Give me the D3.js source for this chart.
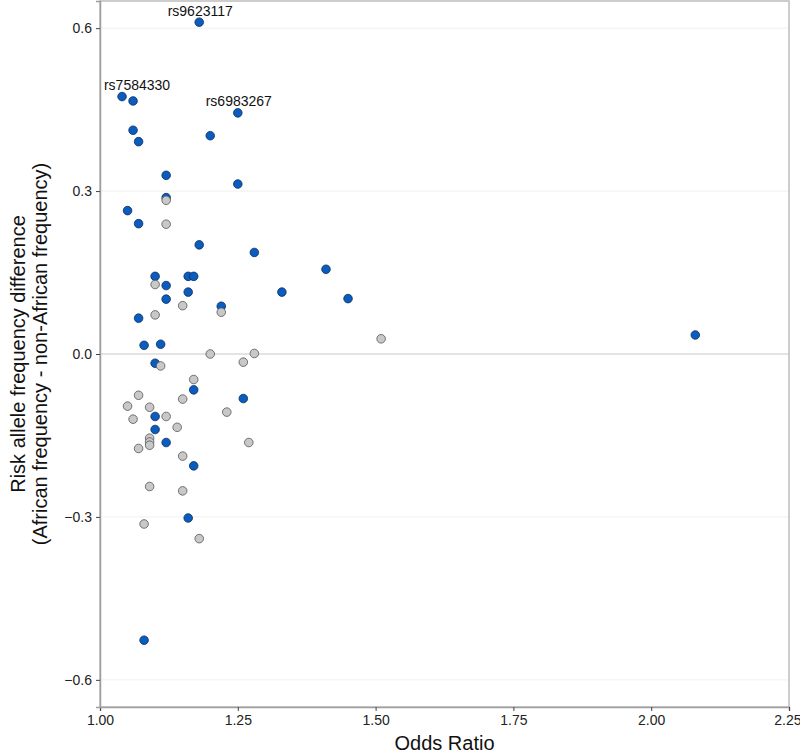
<!DOCTYPE html>
<html>
<head>
<meta charset="utf-8">
<script src="https://cdn.jsdelivr.net/npm/d3@7"></script>
<style>
  body { margin: 0; background: #fff; }
  svg { display: block; font-family: "Liberation Sans", Arial, sans-serif; }
</style>
</head>
<body>
<svg id="chart" width="800" height="754"></svg>
<script>
// ---- data ----
const blueOR = [1.18, 1.04, 1.06, 1.25, 1.06, 1.07, 1.20, 1.12, 1.25, 1.12, 1.05, 1.07, 1.18, 1.28, 1.10, 1.12, 1.16, 1.17, 1.16, 1.12, 1.22, 1.33, 1.07, 1.08, 1.11, 1.41, 1.45, 2.08, 1.10, 1.17, 1.26, 1.10, 1.10, 1.12, 1.17, 1.16, 1.08];
const blueDiff = [0.611, 0.474, 0.466, 0.444, 0.412, 0.391, 0.402, 0.329, 0.313, 0.288, 0.264, 0.240, 0.201, 0.187, 0.143, 0.126, 0.143, 0.143, 0.114, 0.101, 0.088, 0.114, 0.066, 0.016, 0.018, 0.156, 0.102, 0.035, -0.017, -0.066, -0.082, -0.115, -0.139, -0.163, -0.206, -0.302, -0.527];
const grayOR = [1.12, 1.12, 1.10, 1.15, 1.22, 1.10, 1.20, 1.28, 1.51, 1.11, 1.26, 1.17, 1.07, 1.15, 1.05, 1.09, 1.23, 1.06, 1.12, 1.14, 1.09, 1.09, 1.09, 1.07, 1.27, 1.15, 1.09, 1.15, 1.08, 1.18];
const grayDiff = [0.283, 0.239, 0.128, 0.089, 0.077, 0.072, 0.000, 0.001, 0.028, -0.022, -0.015, -0.047, -0.076, -0.083, -0.096, -0.098, -0.107, -0.120, -0.115, -0.135, -0.155, -0.162, -0.168, -0.174, -0.163, -0.188, -0.244, -0.252, -0.313, -0.340];
const labelNames = ["rs9623117", "rs7584330", "rs6983267"];
const labelOR = [1.18, 1.04, 1.25];
const labelDiff = [0.611, 0.474, 0.444];
const xTicks = [1.00, 1.25, 1.50, 1.75, 2.00, 2.25];
const yTicks = [0.6, 0.3, 0.0, -0.3, -0.6];

// ---- layout ----
const W = 800, H = 754;
const m = { left: 100, right: 11, top: 1, bottom: 47 };
const svg = d3.select("#chart");

const x = d3.scaleLinear().domain([1.0, 2.25]).range([m.left, W - m.right]);
const y = d3.scaleLinear().domain([-0.65, 0.65]).range([H - m.bottom, m.top]);

// panel grid
const g = svg.append("g");
g.selectAll(".grid").data(yTicks.filter(d => d !== 0)).enter().append("line")
  .attr("x1", m.left).attr("x2", W - m.right)
  .attr("y1", d => y(d)).attr("y2", d => y(d))
  .attr("stroke", "#f0f0f0").attr("stroke-width", 1);
g.append("line")
  .attr("x1", m.left).attr("x2", W - m.right)
  .attr("y1", y(0)).attr("y2", y(0))
  .attr("stroke", "#c8c8c8").attr("stroke-width", 1.2);

// panel border
svg.append("rect")
  .attr("x", m.left).attr("y", m.top)
  .attr("width", W - m.left - m.right).attr("height", H - m.top - m.bottom)
  .attr("fill", "none").attr("stroke", "#bdbdbd").attr("stroke-width", 1.5);

// axes
const xAxis = svg.append("g").attr("transform", `translate(0,${H - m.bottom})`)
  .call(d3.axisBottom(x).tickValues(xTicks).tickFormat(d3.format(".2f")).tickSize(4).tickPadding(4));
const yAxis = svg.append("g").attr("transform", `translate(${m.left},0)`)
  .call(d3.axisLeft(y).tickValues(yTicks).tickFormat(d3.format(".1f")).tickSize(4).tickPadding(4));
[xAxis, yAxis].forEach(a => {
  a.select(".domain").attr("stroke", "#9e9e9e").attr("stroke-width", 1.5);
  a.selectAll(".tick line").attr("stroke", "#444");
  a.selectAll(".tick text").attr("fill", "#222").style("font-size", "14px")
    .style("font-family", "'Liberation Sans', Arial, sans-serif");
});
xAxis.selectAll(".tick").filter(d => d === 2.25).select("text").attr("text-anchor", "end").attr("dx", "12");

// points
const blue = blueOR.map((o, i) => ({ or: o, d: blueDiff[i] }));
const gray = grayOR.map((o, i) => ({ or: o, d: grayDiff[i] }));
svg.append("g").selectAll("circle").data(blue).enter().append("circle")
  .attr("cx", d => x(d.or)).attr("cy", d => y(d.d)).attr("r", 4.3)
  .attr("fill", "#0b5cbf").attr("stroke", "#0d2d5c").attr("stroke-width", 0.8);
svg.append("g").selectAll("circle").data(gray).enter().append("circle")
  .attr("cx", d => x(d.or)).attr("cy", d => y(d.d)).attr("r", 4.3)
  .attr("fill", "#c8c8c8").attr("stroke", "#555").attr("stroke-width", 0.8);

// labels
const labelDx = [1, 15, 1];
const labelDy = [-11, -12, -12];
svg.append("g").selectAll("text").data(labelNames).enter().append("text")
  .attr("x", (d, i) => x(labelOR[i]) + labelDx[i])
  .attr("y", (d, i) => y(labelDiff[i]) + labelDy[i])
  .attr("text-anchor", "middle").attr("dominant-baseline", "central")
  .style("font-size", "14px").attr("fill", "#111")
  .text(d => d);

// axis titles
svg.append("text")
  .attr("x", (m.left + W - m.right) / 2).attr("y", 743)
  .attr("text-anchor", "middle").attr("dominant-baseline", "central")
  .style("font-size", "20px").attr("fill", "#111")
  .text("Odds Ratio");
const yc = (m.top + H - m.bottom) / 2;
const yt = svg.append("text")
  .attr("transform", `translate(18,${yc}) rotate(-90)`)
  .attr("text-anchor", "middle").attr("dominant-baseline", "central")
  .style("font-size", "20px").attr("fill", "#111");
yt.append("tspan").attr("x", 0).attr("dy", 0).text("Risk allele frequency difference");
yt.append("tspan").attr("x", 0).attr("dy", 22).text("(African frequency - non-African frequency)");
</script>
</body>
</html>
